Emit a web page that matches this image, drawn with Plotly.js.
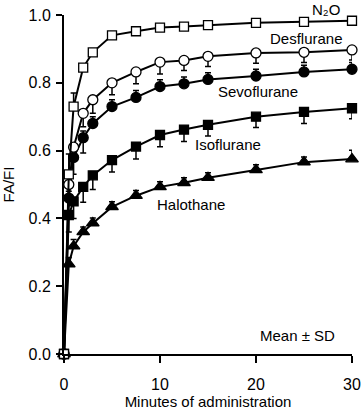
<!DOCTYPE html>
<html>
<head>
<meta charset="utf-8">
<script src="https://cdn.plot.ly/plotly-3.0.1.min.js"></script>
<style>html,body{margin:0;padding:0;background:#fff;}#chart{width:362px;height:410px;}</style>
</head>
<body>
<div id="chart"></div>
<script>
const minutes = [0, 0.5, 1, 2, 3, 5, 7.5, 10, 12.5, 15, 20, 25, 30];
const n2o = [0, 0.53, 0.73, 0.845, 0.89, 0.94, 0.952, 0.963, 0.966, 0.97, 0.977, 0.98, 0.983];
const desflurane = [0, 0.50, 0.61, 0.71, 0.75, 0.80, 0.832, 0.861, 0.866, 0.878, 0.888, 0.89, 0.897];
const sevoflurane = [0, 0.46, 0.58, 0.638, 0.68, 0.73, 0.757, 0.789, 0.797, 0.81, 0.82, 0.832, 0.84];
const isoflurane = [0, 0.41, 0.45, 0.493, 0.527, 0.572, 0.612, 0.646, 0.662, 0.676, 0.70, 0.714, 0.725];
const halothane = [0, 0.265, 0.318, 0.36, 0.386, 0.434, 0.467, 0.493, 0.505, 0.52, 0.543, 0.566, 0.575];

const n2oSdPlus = [0, 0.06, 0.04, 0, 0, 0, 0, 0, 0, 0, 0, 0, 0];
const desSdMinus = [0, 0.04, 0.04, 0.04, 0.04, 0.035, 0.035, 0.035, 0.03, 0.03, 0.03, 0.03, 0.03];
const sevSdPlus = [0, 0.02, 0.02, 0.02, 0.02, 0.02, 0.02, 0.02, 0.02, 0.02, 0.02, 0.02, 0.02];
const sevSdMinus = [0, 0.05, 0.05, 0.045, 0, 0, 0, 0, 0, 0, 0, 0, 0];
const isoSdMinus = [0, 0.05, 0.05, 0.045, 0.042, 0.035, 0.037, 0.035, 0.035, 0.033, 0.032, 0.034, 0.031];
const halSdPlus = [0, 0.02, 0.02, 0.015, 0.015, 0.015, 0.015, 0.015, 0.015, 0.015, 0.015, 0.015, 0.026];

const labels = ['N\u2082O', 'Desflurane', 'Sevoflurane', 'Isoflurane', 'Halothane', 'Mean \u00b1 SD'];
const xTickLabels = ['0', '10', '20', '30'];
const yTickLabels = ['0.0', '0.2', '0.4', '0.6', '0.8', '1.0'];

const FONT = 'Liberation Sans, Arial, Helvetica, sans-serif';

function err(plus, minus) {
  return {type: 'data', symmetric: false, array: plus, arrayminus: minus,
          color: '#000', thickness: 1.5, width: 3, visible: true};
}
const zeros = minutes.map(() => 0);

function series(name, y, symbol, filled, size, e) {
  return {
    x: minutes, y: y, name: name, type: 'scatter', mode: 'lines+markers',
    line: {color: '#000', width: 2},
    marker: {symbol: symbol, size: size, color: filled ? '#000' : '#fff',
             line: {color: '#000', width: 1.3}},
    error_y: e, cliponaxis: false, showlegend: false
  };
}

const data = [
  series('Halothane', halothane, 'triangle-up', true, 11, err(halSdPlus, zeros)),
  series('Isoflurane', isoflurane, 'square', true, 9, err(zeros, isoSdMinus)),
  series('Sevoflurane', sevoflurane, 'circle', true, 10, err(sevSdPlus, sevSdMinus)),
  series('Desflurane', desflurane, 'circle', false, 10, err(zeros, desSdMinus)),
  series('N2O', n2o, 'square', false, 9, err(n2oSdPlus, zeros))
];

// label positions in paper fractions of the plot area
const annPos = [[0.91, 1.015], [0.843, 0.932], [0.673, 0.773], [0.57, 0.617], [0.44, 0.44], [0.81, 0.056]];
const annotations = labels.map((t, i) => ({
  x: annPos[i][0], y: annPos[i][1], xref: 'paper', yref: 'paper', text: t, showarrow: false,
  xanchor: 'center', yanchor: 'middle', font: {family: FONT, size: 15, color: '#000'}
}));

const layout = {
  width: 362, height: 410,
  margin: {l: 64, r: 10, t: 15, b: 56},
  paper_bgcolor: '#fff', plot_bgcolor: '#fff',
  font: {family: FONT, size: 15, color: '#000'},
  xaxis: {
    range: [0, 30], tickvals: [0, 10, 20, 30], ticktext: xTickLabels,
    showgrid: false, zeroline: false, showline: true, linecolor: '#000', linewidth: 2,
    ticks: 'outside', ticklen: 7, tickwidth: 2, tickcolor: '#000',
    tickfont: {family: FONT, size: 16}, ticklabelstandoff: 8,
    title: {text: 'Minutes of administration\u00a0\u00a0\u00a0\u00a0\u00a0\u00a0', font: {family: FONT, size: 15}, standoff: 6}
  },
  yaxis: {
    range: [0, 1], tickvals: [0, 0.2, 0.4, 0.6, 0.8, 1.0], ticktext: yTickLabels,
    showgrid: false, zeroline: false, showline: true, linecolor: '#000', linewidth: 2,
    ticks: 'outside', ticklen: 6, tickwidth: 2, tickcolor: '#000',
    tickfont: {family: FONT, size: 16}, ticklabelstandoff: 2,
    title: {text: 'FA/FI', font: {family: FONT, size: 15}, standoff: 10}
  },
  annotations: annotations
};

Plotly.newPlot('chart', data, layout, {displayModeBar: false, staticPlot: true});
</script>
</body>
</html>
